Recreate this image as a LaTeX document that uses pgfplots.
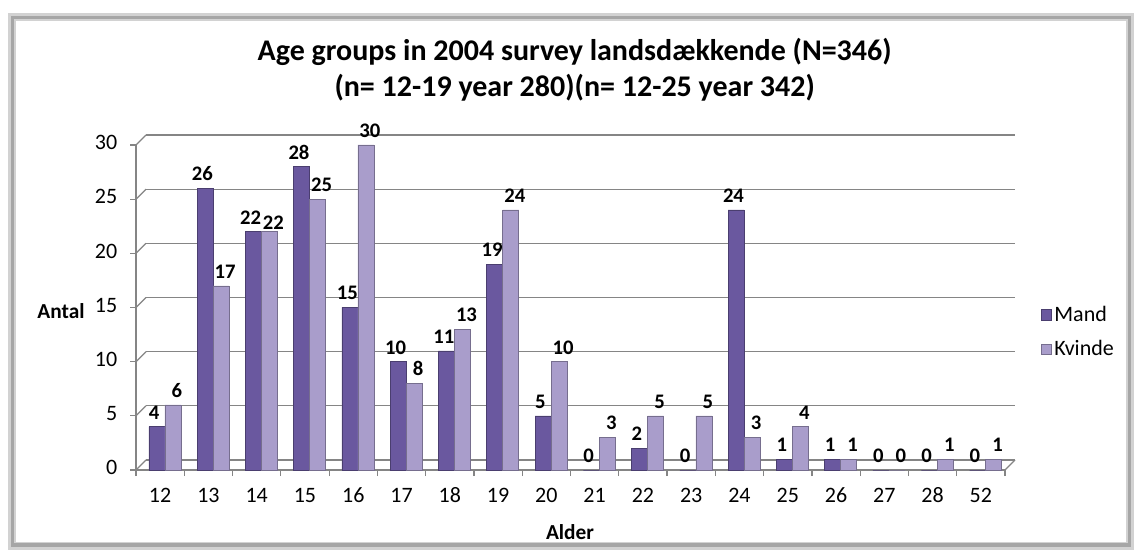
\documentclass[border=0pt]{standalone}
\usepackage{fontspec}
\setmainfont{Carlito}
\usepackage{pgfplots}
\pgfplotsset{compat=1.18}
\definecolor{mand}{HTML}{6A589F}
\definecolor{kvinde}{HTML}{A99DCB}
\definecolor{gridc}{HTML}{858585}
\pgfplotstableread{
x y dy
0 4 0
1 26 0
2 22 0
3 28 0
4 15 0
5 10 0
6 11 0
7 19 0
8 5 0
9 0 0
10 2 0
11 0 0
12 24 0
13 1 0
14 1 0
15 0 0
16 0 0
17 0 0
}\mand
\pgfplotstableread{
x y dy
0 6 0
1 17 0
2 22 -4
3 25 0
4 30 0
5 8 0
6 13 0
7 24 0
8 10 0
9 3 0
10 5 0
11 5 0
12 3 0
13 4 0
14 1 0
15 0 0
16 1 0
17 1 0
}\kvinde
\begin{document}
\begin{tikzpicture}
% page and frame (1px = 0.75pt)
\fill[white] (0,0) rectangle (852.75pt,414.75pt);
\draw[gray!35, line width=6pt] (9pt,5pt) rectangle (847.5pt,402pt);
\draw[gray!70, line width=2.5pt] (9.5pt,6pt) rectangle (847pt,401.5pt);
\node[align=center, font=\bfseries\fontsize{22.5}{27}\selectfont] at (431pt,{(553-70)*0.75pt}) {Age groups in 2004 survey landsdækkende (N=346)\\(n= 12-19 year 280)(n= 12-25 year 342)};
\node[font=\bfseries\fontsize{16}{18}\selectfont] at ({61*0.75pt},{(553-311)*0.75pt}) {Antal};
\node[font=\bfseries\fontsize{16}{18}\selectfont] at ({570*0.75pt},{(553-532)*0.75pt}) {Alder};
\begin{axis}[
  at={({136*0.75pt},{(553-470)*0.75pt})}, anchor=south west,
  scale only axis, width=651.75pt, height=243.75pt,
  xmin=-0.5, xmax=17.5, ymin=0, ymax=30,
  clip=false,
  axis x line*=bottom, axis y line*=left,
  axis line style={gridc, line width=0.9pt, -},
  ytick={0,5,...,30},
  xtick={0,...,17},
  xticklabels={12,13,14,15,16,17,18,19,20,21,22,23,24,25,26,27,28,52},
  minor xtick={-0.5,0.5,...,17.5},
  major x tick style={draw=none},
  minor x tick style={gridc, line width=0.9pt},
  y tick style={gridc, line width=0.9pt},
  tick align=outside, major tick length=4.5pt, minor tick length=4.5pt,
  tick label style={font=\fontsize{16.5}{18}\selectfont, black},
  /pgf/number format/assume math mode=true,
  typeset ticklabels with strut,
  xticklabel style={yshift=-4pt},
  yticklabel style={xshift=-6pt},
  ymajorgrids,
  major grid style={gridc, line width=0.9pt, xshift=7.5pt, yshift=7.5pt},
  ybar=0pt, bar width=12pt,
  nodes near coords,
  visualization depends on={\thisrow{dy} \as \dy},
  every node near coord/.append style={font=\bfseries\fontsize{15.5}{17}\selectfont, black, yshift=2pt+\dy pt},
  legend style={at={(1.036,0.425)}, anchor=west, draw=none, fill=none,
    font=\fontsize{16.5}{19}\selectfont, row sep=9pt},
  legend cell align=left,
  legend image code/.code={\fill[#1] (0pt,-4pt) rectangle (8pt,4pt);},
]
\pgfplotsinvokeforeach{0,5,10,15,20,25,30}{
  \draw[gridc, line width=0.9pt] (axis cs:-0.5,#1) -- ++(7.5pt,7.5pt);
}
\draw[gridc, line width=0.9pt] (axis cs:17.5,0) -- ++(7.5pt,7.5pt);
\addplot[fill=mand, draw=mand!70!black, bar shift=-2.5pt,
  every node near coord/.append style={xshift=-2pt}] table[x=x,y=y] {\mand};
\addplot[fill=kvinde, draw=kvinde!70!black, bar shift=9.5pt,
  every node near coord/.append style={xshift=3pt}] table[x=x,y=y] {\kvinde};
\legend{Mand,Kvinde}
\end{axis}
\end{tikzpicture}
\end{document}
